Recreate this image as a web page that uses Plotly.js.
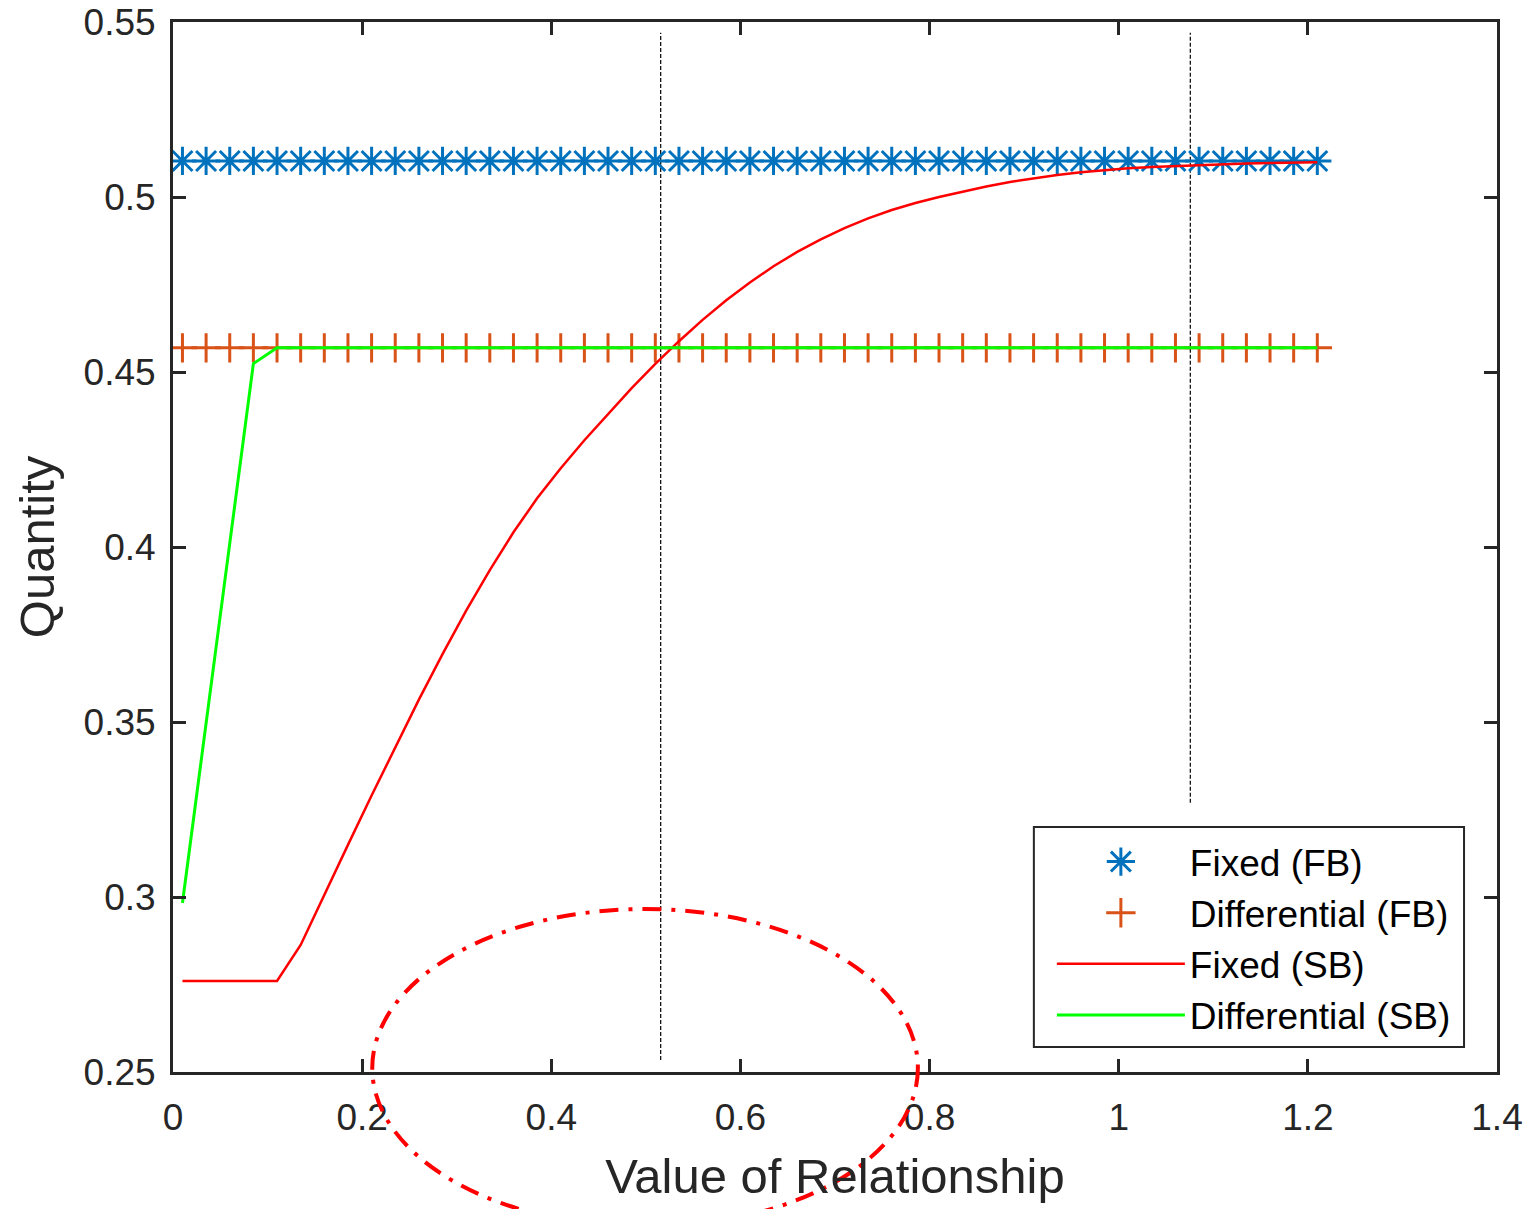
<!DOCTYPE html>
<html>
<head>
<meta charset="utf-8">
<script src="https://cdn.plot.ly/plotly-3.0.1.min.js"></script>
<style>
  html, body { margin: 0; padding: 0; background: #ffffff; }
  #chart { width: 1531px; height: 1209px; }
</style>
</head>
<body>
<div id="chart"></div>
<script>
// Relationship value (shared by all four series)
const relationValue = [
  0.01, 0.035, 0.06, 0.085, 0.11, 0.135, 0.16, 0.185, 0.21, 0.235,
  0.26, 0.285, 0.31, 0.335, 0.36, 0.385, 0.41, 0.435, 0.46, 0.485,
  0.51, 0.535, 0.56, 0.585, 0.61, 0.635, 0.66, 0.685, 0.71, 0.735,
  0.76, 0.785, 0.81, 0.835, 0.86, 0.885, 0.91, 0.935, 0.96, 0.985,
  1.01, 1.035, 1.06, 1.085, 1.11, 1.135, 1.16, 1.185, 1.21
];

// Fixed pricing, first-best quantity
const fixedFB = [
  0.5103, 0.5103, 0.5103, 0.5103, 0.5103, 0.5103, 0.5103, 0.5103, 0.5103, 0.5103,
  0.5103, 0.5103, 0.5103, 0.5103, 0.5103, 0.5103, 0.5103, 0.5103, 0.5103, 0.5103,
  0.5103, 0.5103, 0.5103, 0.5103, 0.5103, 0.5103, 0.5103, 0.5103, 0.5103, 0.5103,
  0.5103, 0.5103, 0.5103, 0.5103, 0.5103, 0.5103, 0.5103, 0.5103, 0.5103, 0.5103,
  0.5103, 0.5103, 0.5103, 0.5103, 0.5103, 0.5103, 0.5103, 0.5103, 0.5103
];

// Differential pricing, first-best quantity
const differentialFB = [
  0.4569, 0.4569, 0.4569, 0.4569, 0.4569, 0.4569, 0.4569, 0.4569, 0.4569, 0.4569,
  0.4569, 0.4569, 0.4569, 0.4569, 0.4569, 0.4569, 0.4569, 0.4569, 0.4569, 0.4569,
  0.4569, 0.4569, 0.4569, 0.4569, 0.4569, 0.4569, 0.4569, 0.4569, 0.4569, 0.4569,
  0.4569, 0.4569, 0.4569, 0.4569, 0.4569, 0.4569, 0.4569, 0.4569, 0.4569, 0.4569,
  0.4569, 0.4569, 0.4569, 0.4569, 0.4569, 0.4569, 0.4569, 0.4569, 0.4569
];

// Fixed pricing, second-best quantity
const fixedSB = [
  0.2760, 0.2760, 0.2760, 0.2760, 0.2760, 0.2863, 0.3007, 0.3149, 0.3290, 0.3429,
  0.3564, 0.3694, 0.3818, 0.3934, 0.4042, 0.4139, 0.4225, 0.4305, 0.4381, 0.4454,
  0.4523, 0.4588, 0.4649, 0.4705, 0.4756, 0.4802, 0.4843, 0.4879, 0.4911, 0.4939,
  0.4963, 0.4983, 0.5000, 0.5016, 0.5030, 0.5043, 0.5054, 0.5063, 0.5071, 0.5077,
  0.5082, 0.5086, 0.5089, 0.5092, 0.5094, 0.5096, 0.5097, 0.5098, 0.5099
];

// Differential pricing, second-best quantity
const differentialSB = [
  0.2983, 0.3495, 0.4010, 0.4524, 0.4569, 0.4569, 0.4569, 0.4569, 0.4569, 0.4569,
  0.4569, 0.4569, 0.4569, 0.4569, 0.4569, 0.4569, 0.4569, 0.4569, 0.4569, 0.4569,
  0.4569, 0.4569, 0.4569, 0.4569, 0.4569, 0.4569, 0.4569, 0.4569, 0.4569, 0.4569,
  0.4569, 0.4569, 0.4569, 0.4569, 0.4569, 0.4569, 0.4569, 0.4569, 0.4569, 0.4569,
  0.4569, 0.4569, 0.4569, 0.4569, 0.4569, 0.4569, 0.4569, 0.4569, 0.4569
];

// Threshold guides (vertical dashed lines)
const thresholdX = [0.5157, 1.0757];
const thresholdTop = [0.5469, 0.5469];
const thresholdBottom = [0.2534, 0.3269];

const seriesNames = ['Fixed (FB)', 'Differential (FB)', 'Fixed (SB)', 'Differential (SB)'];
const xTickValues = [0, 0.2, 0.4, 0.6, 0.8, 1, 1.2, 1.4];
const yTickValues = [0.25, 0.3, 0.35, 0.4, 0.45, 0.5, 0.55];

const BLUE = '#0072BD';
const ORANGE = '#D95319';
const AXIS = '#262626';
const FONT = 'Liberation Sans, Arial, Helvetica, sans-serif';

const traces = [];

// vertical guides first so the curves sit on top
thresholdX.forEach((xv, i) => {
  traces.push({
    x: [xv, xv],
    y: [thresholdBottom[i], thresholdTop[i]],
    mode: 'lines',
    line: { color: '#000000', width: 1.2, dash: '4px,2px' },
    showlegend: false,
    hoverinfo: 'skip'
  });
});

traces.push({
  name: seriesNames[0],
  x: relationValue, y: fixedFB,
  mode: 'markers',
  marker: { symbol: 'asterisk-open', size: 23.5, color: BLUE, line: { color: BLUE, width: 3 } }
});
traces.push({
  name: seriesNames[1],
  x: relationValue, y: differentialFB,
  mode: 'markers',
  marker: { symbol: 'cross-thin-open', size: 21, color: ORANGE, line: { color: ORANGE, width: 3 } }
});
traces.push({
  name: seriesNames[2],
  x: relationValue, y: fixedSB,
  mode: 'lines',
  line: { color: '#FF0000', width: 2.5 }
});
traces.push({
  name: seriesNames[3],
  x: relationValue, y: differentialSB,
  mode: 'lines',
  line: { color: '#00FF00', width: 3 }
});

const axisCommon = {
  showline: true, linecolor: AXIS, linewidth: 3, mirror: 'ticks',
  ticks: 'inside', ticklen: 13, tickwidth: 3, tickcolor: AXIS,
  showgrid: false, zeroline: false,
  tickfont: { family: FONT, size: 37, color: AXIS }
};

const layout = {
  width: 1531, height: 1209,
  margin: { l: 173, r: 34, t: 22, b: 137 },
  paper_bgcolor: '#ffffff', plot_bgcolor: '#ffffff',
  font: { family: FONT, color: AXIS },
  showlegend: true,
  xaxis: Object.assign({}, axisCommon, {
    range: [0, 1.4], tickmode: 'array', tickvals: xTickValues,
    ticklabelstandoff: 11,
    title: { text: 'Value of Relationship', font: { family: FONT, size: 49, color: AXIS }, standoff: 22 }
  }),
  yaxis: Object.assign({}, axisCommon, {
    range: [0.25, 0.55], tickmode: 'array', tickvals: yTickValues,
    ticklabelstandoff: 7,
    title: { text: 'Quantity', font: { family: FONT, size: 49, color: AXIS }, standoff: 14 }
  }),
  legend: {
    x: 0.6638, y: 0.2295, xanchor: 'left', yanchor: 'top',
    bgcolor: 'rgba(0,0,0,0)', borderwidth: 0,
    font: { family: FONT, size: 37, color: '#000000' },
    itemwidth: 128
  },
  shapes: [
    // legend frame
    {
      type: 'rect', xref: 'paper', yref: 'paper',
      x0: 0.6502, x1: 0.9751, y0: 0.0238, y1: 0.2333,
      fillcolor: '#ffffff', line: { color: AXIS, width: 2 }, layer: 'above'
    },
    // highlighted region
    {
      type: 'circle', xref: 'paper', yref: 'paper',
      x0: 0.1505, x1: 0.5626, y0: -0.1476, y1: 0.1552,
      line: { color: '#FF0000', width: 4, dash: '19px,10px,4px,10px' },
      layer: 'above'
    }
  ]
};

// Legend symbols are capped at 16px by the library; enlarge them to the plotted marker size.
const LEGEND_MARKER_CAP = 16;
Plotly.newPlot('chart', traces, layout, { staticPlot: true }).then(gd => {
  const legendTraces = traces.filter(t => t.showlegend !== false);
  const groups = gd.querySelectorAll('.legend .traces');
  groups.forEach((g, i) => {
    const tr = legendTraces[i];
    if (!tr || !tr.marker) return;
    const k = tr.marker.size / LEGEND_MARKER_CAP;
    g.querySelectorAll('.legendpoints path').forEach(p => {
      const base = p.getAttribute('transform') || '';
      p.setAttribute('transform', base + ' scale(' + k + ')');
      p.style.strokeWidth = (tr.marker.line.width / k) + 'px';
    });
  });
});
</script>
</body>
</html>
